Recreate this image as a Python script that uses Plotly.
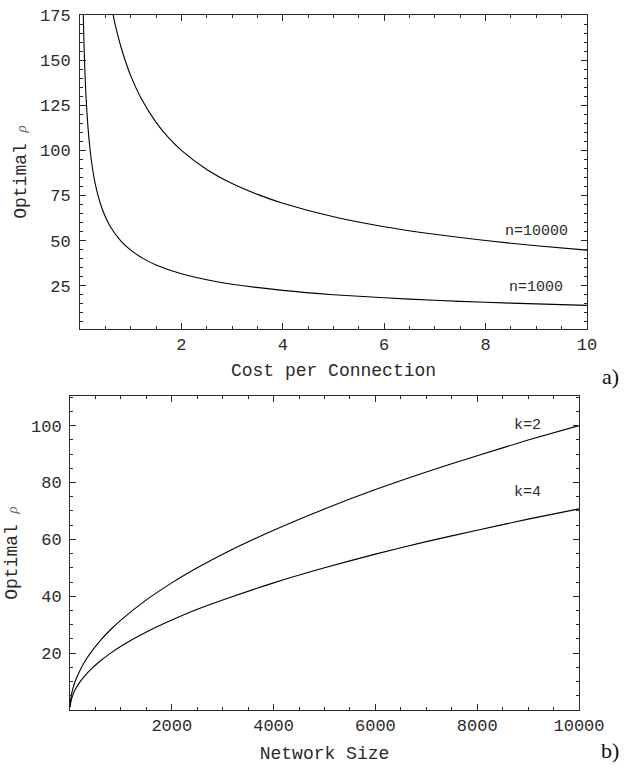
import plotly.graph_objects as go

# ---- Data: panel a) Optimal rho vs cost per connection ----
cost_n10000 = [0.65, 0.7, 0.8, 0.9, 1.0, 1.2, 1.5, 1.75, 2.0, 2.5, 3.0, 3.5, 4.0, 5.0, 6.0, 7.0, 8.0, 9.0, 10.0]
rho_n10000 = [175.4, 169.0, 158.1, 149.1, 141.4, 129.1, 115.5, 106.9, 100.0, 89.4, 81.6, 75.6, 70.7, 63.2, 57.7, 53.5, 50.0, 47.1, 44.7]

cost_n1000 = [0.065, 0.07, 0.08, 0.09, 0.1, 0.12, 0.15, 0.2, 0.25, 0.3, 0.4, 0.5, 0.6, 0.8, 1.0, 1.25, 1.5, 2.0, 2.5, 3.0, 4.0, 5.0, 6.0, 7.0, 8.0, 9.0, 10.0]
rho_n1000 = [175.4, 169.0, 158.1, 149.1, 141.4, 129.1, 115.5, 100.0, 89.4, 81.6, 70.7, 63.2, 57.7, 50.0, 44.7, 40.0, 36.5, 31.6, 28.3, 25.8, 22.4, 20.0, 18.3, 16.9, 15.8, 14.9, 14.1]

# ---- Data: panel b) Optimal rho vs network size ----
size_k2 = [2, 10, 25, 50, 100, 200, 300, 400, 600, 800, 1000, 1500, 2000, 2500, 3000, 4000, 5000, 6000, 7000, 8000, 9000, 10000]
rho_k2 = [1.4, 3.2, 5.0, 7.1, 10.0, 14.1, 17.3, 20.0, 24.5, 28.3, 31.6, 38.7, 44.7, 50.0, 54.8, 63.2, 70.7, 77.5, 83.7, 89.4, 94.9, 100.0]

size_k4 = [2, 10, 25, 50, 100, 200, 300, 400, 600, 800, 1000, 1500, 2000, 2500, 3000, 4000, 5000, 6000, 7000, 8000, 9000, 10000]
rho_k4 = [1.0, 2.2, 3.5, 5.0, 7.1, 10.0, 12.2, 14.1, 17.3, 20.0, 22.4, 27.4, 31.6, 35.4, 38.7, 44.7, 50.0, 54.8, 59.2, 63.2, 67.1, 70.7]

xticks_a = [2, 4, 6, 8, 10]
yticks_a = [25, 50, 75, 100, 125, 150, 175]
xticks_b = [2000, 4000, 6000, 8000, 10000]
yticks_b = [20, 40, 60, 80, 100]

labels_a = ["n=10000", "n=1000"]
labels_b = ["k=2", "k=4"]

W, H = 634, 776
MONO = "Liberation Mono, Courier New, monospace"
SERIF = "Liberation Serif, Times New Roman, serif"
INK = "#2a2a2a"

fig = go.Figure()
line = dict(color="black", width=1.1, shape="spline", smoothing=0.6)
fig.add_trace(go.Scatter(x=cost_n10000, y=rho_n10000, mode="lines", line=line, xaxis="x", yaxis="y", showlegend=False))
fig.add_trace(go.Scatter(x=cost_n1000, y=rho_n1000, mode="lines", line=line, xaxis="x", yaxis="y", showlegend=False))
fig.add_trace(go.Scatter(x=size_k2, y=rho_k2, mode="lines", line=line, xaxis="x2", yaxis="y2", showlegend=False))
fig.add_trace(go.Scatter(x=size_k4, y=rho_k4, mode="lines", line=line, xaxis="x2", yaxis="y2", showlegend=False))

def ax(**kw):
    base = dict(
        showline=True, linecolor=INK, linewidth=1, mirror="ticks",
        ticks="inside", ticklen=6, tickwidth=1, tickcolor=INK,
        showgrid=False, zeroline=False, automargin=False,
        tickfont=dict(family=MONO, size=17, color=INK),
        title_font=dict(family=MONO, size=18, color=INK),
    )
    base.update(kw)
    return base

ytitle = "Optimal <span style='font-family:Liberation Serif;font-size:15px;color:#666'><i>ρ</i></span>"

fig.update_layout(
    width=W, height=H,
    margin=dict(l=0, r=0, t=0, b=0, autoexpand=False),
    paper_bgcolor="white", plot_bgcolor="white",
    xaxis=ax(domain=[80 / W, 587 / W], range=[0, 10], tickvals=xticks_a,
             ticktext=[str(v) for v in xticks_a], anchor="y",
             minor=dict(dtick=0.5, tick0=0, ticklen=3, ticks="inside", tickcolor=INK),
             title=dict(text="Cost per Connection", standoff=8)),
    yaxis=ax(domain=[1 - 329 / H, 1 - 15 / H], range=[1, 175], tickvals=yticks_a,
             ticktext=[str(v) for v in yticks_a], anchor="x", ticklabelstandoff=5,
             minor=dict(dtick=5, tick0=0, ticklen=3, ticks="inside", tickcolor=INK),
             title=dict(text=ytitle, standoff=8)),
    xaxis2=ax(domain=[70 / W, 579 / W], range=[0, 10000], tickvals=xticks_b,
              ticktext=[str(v) for v in xticks_b], anchor="y2",
              minor=dict(dtick=500, tick0=0, ticklen=3, ticks="inside", tickcolor=INK),
              title=dict(text="Network Size", standoff=10)),
    yaxis2=ax(domain=[1 - 710 / H, 1 - 396 / H], range=[0, 110.4], tickvals=yticks_b,
              ticktext=[str(v) for v in yticks_b], anchor="x2", ticklabelstandoff=4,
              minor=dict(dtick=5, tick0=0, ticklen=3, ticks="inside", tickcolor=INK),
              title=dict(text=ytitle, standoff=8)),
)

ann_font = dict(family=MONO, size=15, color=INK)
fig.add_annotation(x=9.0, y=54.9, xref="x", yref="y", text=labels_a[0], showarrow=False, font=ann_font)
fig.add_annotation(x=9.0, y=24.1, xref="x", yref="y", text=labels_a[1], showarrow=False, font=ann_font)
fig.add_annotation(x=8980, y=100, xref="x2", yref="y2", text=labels_b[0], showarrow=False, font=ann_font)
fig.add_annotation(x=8980, y=76.6, xref="x2", yref="y2", text=labels_b[1], showarrow=False, font=ann_font)

fig.add_annotation(x=621 / W, y=1 - 376 / H, xref="paper", yref="paper", text="a)", showarrow=False,
                   font=dict(family=SERIF, size=22, color="#111"))
fig.add_annotation(x=621 / W, y=1 - 765 / H, xref="paper", yref="paper", text="b)", showarrow=False,
                   font=dict(family=SERIF, size=22, color="#111"))

fig.write_html("out.html")
